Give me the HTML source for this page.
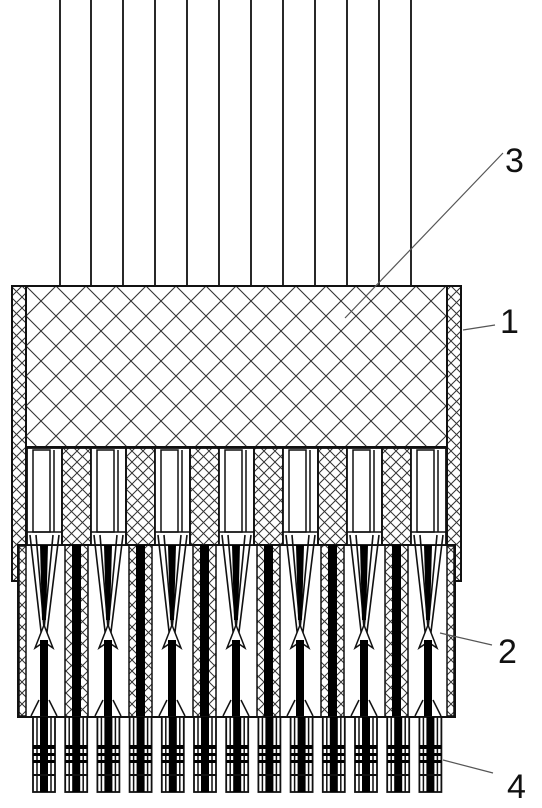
<!DOCTYPE html>
<html><head><meta charset="utf-8"><style>
html,body{margin:0;padding:0;background:#fff;}
svg{display:block;}
text{font-family:"Liberation Sans",sans-serif;font-size:34px;fill:#111;}
</style></head><body>
<svg id="fig" width="542" height="808" viewBox="0 0 542 808">
<defs>
<pattern id="hatchBig" patternUnits="userSpaceOnUse" width="30" height="30" x="26" y="286">
<path d="M0,0L30,30M30,0L0,30" stroke="#333" stroke-width="1.1"/>
</pattern>
<pattern id="hatchSmall" patternUnits="userSpaceOnUse" width="11" height="11">
<path d="M0,0L11,11M11,0L0,11" stroke="#333" stroke-width="1"/>
</pattern>
</defs>
<g id="wires"></g>
<rect x="26" y="286" width="421" height="161" fill="url(#hatchBig)" stroke="#111" stroke-width="2"/>
<rect x="12" y="286" width="14" height="295" fill="url(#hatchSmall)" stroke="#111" stroke-width="2"/>
<rect x="447" y="286" width="14" height="295" fill="url(#hatchSmall)" stroke="#111" stroke-width="2"/>
<rect x="18" y="545" width="437" height="172" fill="#fff" stroke="#111" stroke-width="2"/>
<rect x="19" y="546" width="7" height="170" fill="url(#hatchSmall)" stroke="#111" stroke-width="1.5"/>
<rect x="447" y="546" width="7" height="170" fill="url(#hatchSmall)" stroke="#111" stroke-width="1.5"/>
<g id="cells"></g>
<g id="pins"></g>
<g>
<line x1="503" y1="153" x2="345" y2="318" stroke="#555" stroke-width="1.2"/>
<text x="505" y="172">3</text>
<line x1="463" y1="330" x2="495" y2="325" stroke="#555" stroke-width="1.2"/>
<text x="500" y="333">1</text>
<line x1="440" y1="633" x2="492" y2="645" stroke="#555" stroke-width="1.2"/>
<text x="498" y="663">2</text>
<line x1="443" y1="760" x2="493" y2="773" stroke="#555" stroke-width="1.2"/>
<text x="507" y="798">4</text>
</g>
</svg>
<script>
const NS="http://www.w3.org/2000/svg";
function mk(tag,attrs,parent){const e=document.createElementNS(NS,tag);for(const k in attrs)e.setAttribute(k,attrs[k]);parent.appendChild(e);return e;}
const wires=document.getElementById('wires'),cells=document.getElementById('cells'),pins=document.getElementById('pins');
const wireX=[60,91,123,155,187,219,251,283,315,347,379,411];
wireX.forEach(x=>{
const l=mk('line',{x1:x,y1:0,x2:x,y2:286,stroke:'#111','stroke-width':1.8},wires);


});
// upper contact cavities and hatch columns
for(let i=0;i<7;i++){
const x=27+64*i;
const g=mk('g',{},cells);


mk('rect',{x:x,y:448,width:35,height:97,fill:'#fff',stroke:'#111','stroke-width':1.8},g);
mk('rect',{x:x+6,y:450,width:17,height:82,fill:'#fff',stroke:'#111','stroke-width':1.5},g);
mk('line',{x1:x+27,y1:450,x2:x+27,y2:532,stroke:'#111','stroke-width':1.5},g);
mk('line',{x1:x,y1:532,x2:x+35,y2:532,stroke:'#111','stroke-width':1.5},g);
const cx=x+17;
// V spring lines
mk('path',{d:`M${x+3},535 L${cx-2},640 M${x+9},535 L${cx+1},640 M${x+32},535 L${cx+2},640 M${x+26},535 L${cx-1},640`,stroke:'#111','stroke-width':1.6,fill:'none'},g);
mk('path',{d:`M${cx-4},545 L${cx+4},545 L${cx+2},620 L${cx-2},620Z`,fill:'#000'},g);
mk('path',{d:`M${cx},625 L${cx-9},648 L${cx},642 L${cx+9},648Z`,fill:'#fff',stroke:'#111','stroke-width':1.5},g);
mk('rect',{x:cx-4,y:640,width:8,height:77,fill:'#000'},g);
mk('path',{d:`M${cx-5},700 L${cx-13},716 M${cx+5},700 L${cx+13},716`,stroke:'#111','stroke-width':1.5},g);
if(i<6){
const hx=x+35;
const h=mk('g',{},cells);


mk('rect',{x:hx,y:448,width:29,height:97,fill:'url(#hatchSmall)',stroke:'#111','stroke-width':1.8},h);
const c2=hx+14.5;
mk('rect',{x:hx+3,y:545,width:23,height:172,fill:'url(#hatchSmall)',stroke:'#111','stroke-width':1.5},h);
mk('rect',{x:c2-4.5,y:545,width:9,height:172,fill:'#000'},h);
}
}
// pins
for(let i=0;i<13;i++){
const x=33+32.2*i;
const g=mk('g',{},pins);


mk('rect',{x:x,y:717,width:22,height:75,fill:'#fff',stroke:'#111','stroke-width':1.8},g);
mk('line',{x1:x+4,y1:717,x2:x+4,y2:792,stroke:'#111','stroke-width':1.5},g);
mk('line',{x1:x+18,y1:717,x2:x+18,y2:792,stroke:'#111','stroke-width':1.5},g);
mk('rect',{x:x+7,y:717,width:8,height:75,fill:'#000'},g);
mk('rect',{x:x,y:745,width:22,height:4,fill:'#000'},g);
mk('rect',{x:x,y:753,width:22,height:3,fill:'#000'},g);
mk('rect',{x:x,y:760,width:22,height:3,fill:'#000'},g);
mk('line',{x1:x,y1:775,x2:x+22,y2:775,stroke:'#111','stroke-width':2},g);
}
</script>
</body></html>
